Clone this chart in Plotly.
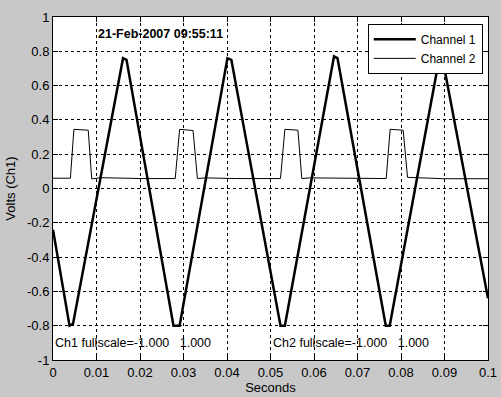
import plotly.graph_objects as go

# Channel 1 (triangle wave) vertices
ch1_t = [0.0, 0.0038, 0.0046, 0.0161, 0.0169, 0.0277, 0.0291, 0.0401, 0.0410,
         0.0523, 0.0533, 0.0646, 0.0654, 0.0765, 0.0774, 0.0888, 0.0896, 0.1]
ch1_v = [-0.24, -0.80, -0.79, 0.76, 0.75, -0.80, -0.80, 0.76, 0.75,
         -0.80, -0.80, 0.77, 0.76, -0.80, -0.80, 0.76, 0.75, -0.64]

# Channel 2 (pulse train) vertices
ch2_t = [0.0, 0.0040, 0.0048, 0.0081, 0.0089, 0.0110, 0.0170, 0.0200,
         0.0281, 0.0291, 0.0322, 0.0332, 0.0350, 0.0420,
         0.0523, 0.0533, 0.0563, 0.0572, 0.0590, 0.0650,
         0.0766, 0.0775, 0.0805, 0.0815, 0.0840, 0.0900, 0.1]
ch2_v = [0.060, 0.060, 0.345, 0.340, 0.056, 0.063, 0.060, 0.058,
         0.058, 0.345, 0.338, 0.058, 0.062, 0.058,
         0.058, 0.345, 0.340, 0.058, 0.062, 0.060,
         0.058, 0.345, 0.340, 0.065, 0.062, 0.057, 0.057]

x_ticks = [0, 0.01, 0.02, 0.03, 0.04, 0.05, 0.06, 0.07, 0.08, 0.09, 0.1]
x_labels = ["0", "0.01", "0.02", "0.03", "0.04", "0.05", "0.06", "0.07", "0.08", "0.09", "0.1"]
y_ticks = [-1, -0.8, -0.6, -0.4, -0.2, 0, 0.2, 0.4, 0.6, 0.8, 1]
y_labels = ["-1", "-0.8", "-0.6", "-0.4", "-0.2", "0", "0.2", "0.4", "0.6", "0.8", "1"]

timestamp = "21-Feb-2007 09:55:11"
ch1_note = "Ch1 fullscale=-1.000\u00a0\u00a0 1.000"
ch2_note = "Ch2 fullscale=-1.000\u00a0\u00a0 1.000"

FONT = "Liberation Sans, Arial, sans-serif"

fig = go.Figure()
fig.add_trace(go.Scatter(x=ch1_t, y=ch1_v, mode="lines", name="Channel 1",
                         line=dict(color="black", width=2.5)))
fig.add_trace(go.Scatter(x=ch2_t, y=ch2_v, mode="lines", name="Channel 2",
                         line=dict(color="black", width=1)))

axis_common = dict(showline=True, linecolor="black", linewidth=1, mirror="ticks",
                   ticks="inside", ticklen=5, tickcolor="black",
                   showgrid=True, gridcolor="black", gridwidth=1, griddash="3px,3px",
                   zeroline=False, automargin=False,
                   tickfont=dict(family=FONT, size=13, color="black"))

fig.update_xaxes(range=[0, 0.1], tickvals=x_ticks, ticktext=x_labels,
                 title=dict(text="Seconds", font=dict(family=FONT, size=13, color="black"), standoff=2),
                 **axis_common)
fig.update_yaxes(range=[-1, 1], tickvals=y_ticks, ticktext=y_labels,
                 title=dict(text="Volts (Ch1)", font=dict(family=FONT, size=13, color="black"), standoff=8),
                 **axis_common)

fig.add_annotation(x=0.0098, y=0.9, text="<b>" + timestamp + "</b>", showarrow=False,
                   xanchor="left", yanchor="middle",
                   font=dict(family=FONT, size=12.5, color="black"))
fig.add_annotation(x=0.0, y=-0.9, text=ch1_note, showarrow=False,
                   xanchor="left", yanchor="middle",
                   font=dict(family=FONT, size=12.5, color="black"))
fig.add_annotation(x=0.05, y=-0.9, text=ch2_note, showarrow=False,
                   xanchor="left", yanchor="middle",
                   font=dict(family=FONT, size=12.5, color="black"))

fig.update_layout(
    width=501, height=397,
    margin=dict(l=53, r=13, t=17, b=37),
    paper_bgcolor="#c8c8c8", plot_bgcolor="white",
    showlegend=True,
    legend=dict(x=0.988, y=0.98, xanchor="right", yanchor="top",
                bgcolor="white", bordercolor="black", borderwidth=1,
                font=dict(family=FONT, size=12, color="black"),
                itemwidth=42, tracegroupgap=0),
)

fig.write_html("out.html")
